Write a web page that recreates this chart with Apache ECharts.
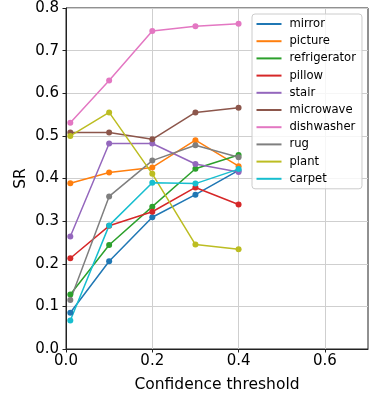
<!DOCTYPE html>
<html>
<head>
<meta charset="utf-8">
<script src="https://cdn.jsdelivr.net/npm/echarts@6/dist/echarts.min.js"></script>
<style>
  html, body { margin: 0; padding: 0; background: #fff; }
  #chart { width: 373px; height: 398px; }
</style>
</head>
<body>
<div id="chart"></div>
<script>
// confidence thresholds on the x axis
const thresholds = [0.01, 0.1, 0.2, 0.3, 0.4];
const xTicks = [0, 0.2, 0.4, 0.6];

// SR per object category
const mirror = [0.085, 0.206, 0.309, 0.362, 0.419];
const picture = [0.389, 0.414, 0.426, 0.490, 0.429];
const refrigerator = [0.128, 0.244, 0.334, 0.423, 0.455];
const pillow = [0.213, 0.289, 0.322, 0.379, 0.339];
const stair = [0.264, 0.482, 0.482, 0.434, 0.415];
const microwave = [0.508, 0.508, 0.492, 0.555, 0.566];
const dishwasher = [0.531, 0.630, 0.746, 0.757, 0.763];
const rug = [0.115, 0.358, 0.442, 0.478, 0.450];
const plant = [0.500, 0.555, 0.411, 0.245, 0.234];
const carpet = [0.067, 0.290, 0.390, 0.388, 0.422];

const names = ['mirror', 'picture', 'refrigerator', 'pillow', 'stair',
  'microwave', 'dishwasher', 'rug', 'plant', 'carpet'];
const values = [mirror, picture, refrigerator, pillow, stair,
  microwave, dishwasher, rug, plant, carpet];
const colors = ['#1f77b4', '#ff7f0e', '#2ca02c', '#d62728', '#9467bd',
  '#8c564b', '#e377c2', '#7f7f7f', '#bcbd22', '#17becf'];

const font = 'DejaVu Sans';
let myChart = echarts.init(document.getElementById('chart'));

let option = {
  animation: false,
  color: colors,
  textStyle: { fontFamily: font },
  grid: {
    left: 66, top: 8, right: 5, bottom: 46,
    show: true, borderColor: '#222', borderWidth: 1,
    backgroundColor: 'transparent'
  },
  legend: {
    orient: 'vertical',
    left: 252, top: 14,
    width: 110,
    padding: [1.5, 6, 1.5, 4.5],
    itemGap: 0.2,
    itemWidth: 25,
    itemHeight: 2,
    icon: 'rect',
    backgroundColor: 'rgba(255,255,255,0.8)',
    borderColor: '#cccccc',
    borderWidth: 1,
    borderRadius: 3,
    data: names,
    textStyle: {
      fontFamily: font, fontSize: 11.6, color: '#000',
      lineHeight: 17, padding: [0, 0, 0, 3]
    }
  },
  xAxis: {
    type: 'value',
    min: 0, max: 0.7, interval: 0.2,
    name: 'Confidence threshold',
    nameLocation: 'middle',
    nameGap: 28,
    nameTextStyle: { fontFamily: font, fontSize: 15.5, color: '#000' },
    axisLine: { show: true, lineStyle: { color: '#222', width: 1 } },
    axisTick: { show: true, customValues: xTicks, length: 3.5, lineStyle: { color: '#222' } },
    axisLabel: {
      customValues: xTicks, margin: 5,
      fontFamily: font, fontSize: 15, color: '#000',
      formatter: v => v.toFixed(1)
    },
    splitLine: { show: true, lineStyle: { color: '#cfcfcf', width: 1 } }
  },
  yAxis: {
    type: 'value',
    min: 0, max: 0.8, interval: 0.1,
    name: 'SR',
    nameLocation: 'middle',
    nameGap: 37,
    nameMoveOverlap: false,
    nameTextStyle: { fontFamily: font, fontSize: 15.5, color: '#000' },
    axisLine: { show: true, lineStyle: { color: '#222', width: 1 } },
    axisTick: { show: true, length: 3.5, lineStyle: { color: '#222' } },
    axisLabel: {
      margin: 7,
      fontFamily: font, fontSize: 15, color: '#000',
      formatter: v => v.toFixed(1)
    },
    splitLine: { show: true, lineStyle: { color: '#cfcfcf', width: 1 } }
  },
  series: names.map((name, i) => ({
    name: name,
    type: 'line',
    data: thresholds.map((x, j) => [x, values[i][j]]),
    symbol: 'circle',
    symbolSize: 6,
    lineStyle: { width: 1.5 },
    emphasis: { disabled: true }
  }))
};

myChart.setOption(option);
</script>
</body>
</html>
